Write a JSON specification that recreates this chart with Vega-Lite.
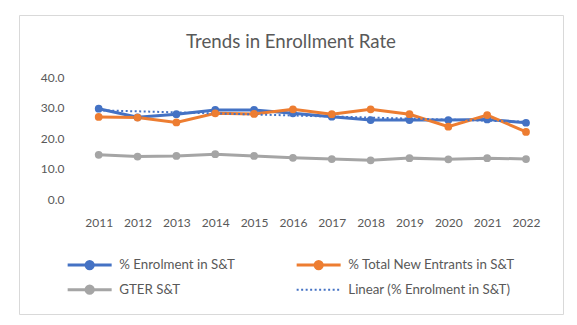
{
  "$schema": "https://vega.github.io/schema/vega-lite/v6.json",
  "width": 544,
  "height": 299,
  "autosize": {"type": "none"},
  "padding": {"left": 19, "top": 15, "right": 14, "bottom": 11},
  "background": "white",
  "title": {
    "text": "Trends in Enrollment Rate",
    "font": "Lato",
    "fontSize": 18.7,
    "fontWeight": "normal",
    "color": "#595959",
    "anchor": "middle",
    "frame": "group",
    "baseline": "alphabetic",
    "offset": -52
  },
  "datasets": {
    "main": [
      {"year": 2011, "series": "% Enrolment in S&T", "value": 29.7},
      {"year": 2012, "series": "% Enrolment in S&T", "value": 26.9},
      {"year": 2013, "series": "% Enrolment in S&T", "value": 27.9},
      {"year": 2014, "series": "% Enrolment in S&T", "value": 29.3},
      {"year": 2015, "series": "% Enrolment in S&T", "value": 29.3},
      {"year": 2016, "series": "% Enrolment in S&T", "value": 28.2},
      {"year": 2017, "series": "% Enrolment in S&T", "value": 27.1},
      {"year": 2018, "series": "% Enrolment in S&T", "value": 26.0},
      {"year": 2019, "series": "% Enrolment in S&T", "value": 26.0},
      {"year": 2020, "series": "% Enrolment in S&T", "value": 26.0},
      {"year": 2021, "series": "% Enrolment in S&T", "value": 26.2},
      {"year": 2022, "series": "% Enrolment in S&T", "value": 25.1},
      {"year": 2011, "series": "% Total New Entrants in S&T", "value": 27.0},
      {"year": 2012, "series": "% Total New Entrants in S&T", "value": 26.8},
      {"year": 2013, "series": "% Total New Entrants in S&T", "value": 25.2},
      {"year": 2014, "series": "% Total New Entrants in S&T", "value": 28.2},
      {"year": 2015, "series": "% Total New Entrants in S&T", "value": 28.0},
      {"year": 2016, "series": "% Total New Entrants in S&T", "value": 29.5},
      {"year": 2017, "series": "% Total New Entrants in S&T", "value": 27.9},
      {"year": 2018, "series": "% Total New Entrants in S&T", "value": 29.5},
      {"year": 2019, "series": "% Total New Entrants in S&T", "value": 27.9},
      {"year": 2020, "series": "% Total New Entrants in S&T", "value": 23.8},
      {"year": 2021, "series": "% Total New Entrants in S&T", "value": 27.6},
      {"year": 2022, "series": "% Total New Entrants in S&T", "value": 22.1},
      {"year": 2011, "series": "GTER S&T", "value": 14.6},
      {"year": 2012, "series": "GTER S&T", "value": 14.0},
      {"year": 2013, "series": "GTER S&T", "value": 14.2},
      {"year": 2014, "series": "GTER S&T", "value": 14.8},
      {"year": 2015, "series": "GTER S&T", "value": 14.2},
      {"year": 2016, "series": "GTER S&T", "value": 13.6},
      {"year": 2017, "series": "GTER S&T", "value": 13.2},
      {"year": 2018, "series": "GTER S&T", "value": 12.8},
      {"year": 2019, "series": "GTER S&T", "value": 13.5},
      {"year": 2020, "series": "GTER S&T", "value": 13.1},
      {"year": 2021, "series": "GTER S&T", "value": 13.5},
      {"year": 2022, "series": "GTER S&T", "value": 13.2}
    ],
    "grid": [{"value": 0}, {"value": 10}, {"value": 20}, {"value": 30}, {"value": 40}]
  },
  "encoding": {
    "x": {
      "field": "year",
      "type": "quantitative",
      "scale": {"domain": [2008.9485, 2022.952], "nice": false, "zero": false},
      "axis": {
        "title": null,
        "values": [2011, 2012, 2013, 2014, 2015, 2016, 2017, 2018, 2019, 2020, 2021, 2022],
        "format": "d",
        "grid": false,
        "domain": false,
        "ticks": false,
        "tickSize": 0,
        "labelPadding": 0,
        "offset": -96.5,
        "labelFont": "Lato",
        "labelFontSize": 12,
        "labelColor": "#595959",
        "labelOverlap": false,
        "labelFlush": false,
        "labelAngle": 0
      }
    },
    "y": {
      "field": "value",
      "type": "quantitative",
      "scale": {"domain": [-37.61, 60.43], "nice": false, "zero": false},
      "axis": {
        "title": null,
        "values": [0, 10, 20, 30, 40],
        "format": ".1f",
        "grid": false,
        "domain": false,
        "ticks": false,
        "tickSize": 0,
        "labelPadding": 0,
        "offset": -45,
        "labelFont": "Lato",
        "labelFontSize": 12,
        "labelColor": "#595959",
        "labelOverlap": false,
        "labelFlush": false
      }
    }
  },
  "layer": [
    {
      "data": {"name": "grid"},
      "mark": {"type": "rule", "color": "#d9d9d9", "strokeWidth": 1},
      "encoding": {
        "x": {"datum": 2010.5, "type": "quantitative"},
        "x2": {"datum": 2022.5}
      }
    },
    {
      "data": {"name": "main"},
      "mark": {"type": "line", "strokeWidth": 3},
      "encoding": {
        "color": {
          "field": "series",
          "type": "nominal",
          "scale": {
            "domain": ["% Enrolment in S&T", "% Total New Entrants in S&T", "GTER S&T", "Linear (% Enrolment in S&T)"],
            "range": ["#4472C4", "#ED7D31", "#A5A5A5", "#4472C4"]
          },
          "legend": {
            "title": null,
            "orient": "none",
            "legendX": 53,
            "legendY": 243,
            "direction": "horizontal",
            "columns": 2,
            "columnPadding": 55,
            "rowPadding": 5,
            "padding": 0,
            "symbolSize": 484,
            "symbolStrokeWidth": 3,
            "labelOffset": 34,
            "labelFont": "Lato",
            "labelFontSize": 13.3,
            "labelColor": "#595959",
            "labelLimit": 300,
            "encode": {
              "symbols": {
                "update": {
                  "shape": {"signal": "datum.value === 'Linear (% Enrolment in S&T)' ? 'M-1,0H3' : 'M-1,0H3M1.33,0A0.33,0.33 0 1 1 0.67,0A0.33,0.33 0 1 1 1.33,0'"},
                  "fill": {"signal": "datum.value === 'Linear (% Enrolment in S&T)' ? 'transparent' : scale('color', datum.value)"},
                  "stroke": {"signal": "scale('color', datum.value)"},
                  "strokeWidth": {"signal": "datum.value === 'Linear (% Enrolment in S&T)' ? 2 : 3"},
                  "strokeDash": {"signal": "datum.value === 'Linear (% Enrolment in S&T)' ? [2, 2.5] : []"},
                  "opacity": {"value": 1},
                  "fillOpacity": {"value": 1}
                }
              }
            }
          }
        }
      }
    },
    {
      "data": {"name": "main"},
      "transform": [
        {"filter": "datum.series === '% Enrolment in S&T'"},
        {"regression": "value", "on": "year", "extent": [2011, 2022]}
      ],
      "mark": {"type": "line", "strokeWidth": 2, "strokeDash": [2, 2.5]},
      "encoding": {
        "color": {"datum": "Linear (% Enrolment in S&T)", "type": "nominal"}
      }
    },
    {
      "data": {"name": "main"},
      "mark": {"type": "point", "filled": true, "size": 60, "opacity": 1},
      "encoding": {
        "color": {"field": "series", "type": "nominal"}
      }
    }
  ],
  "config": {
    "view": {"stroke": "#d9d9d9", "strokeWidth": 1},
    "font": "Lato"
  }
}
